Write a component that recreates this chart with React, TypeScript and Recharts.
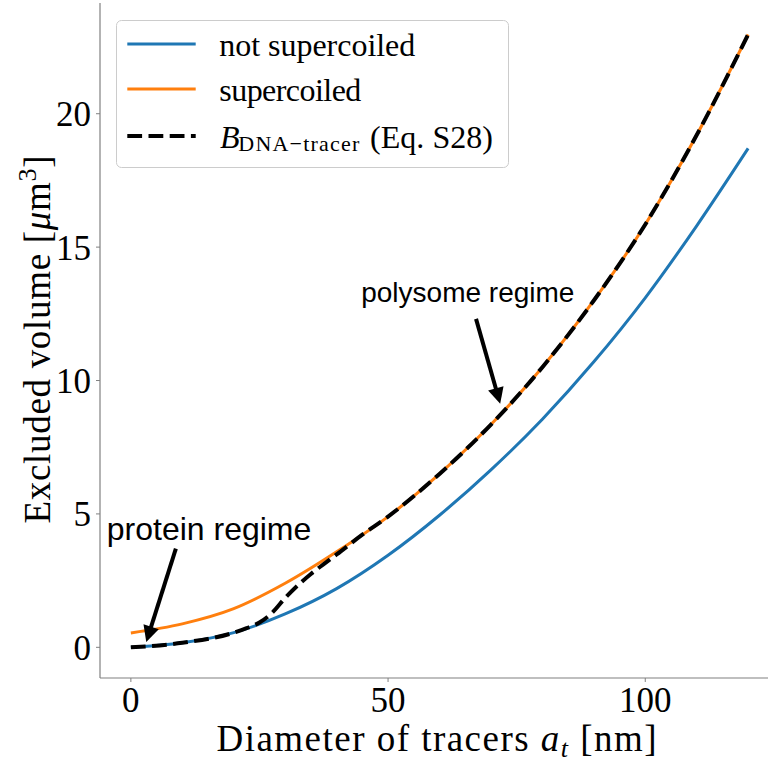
import React from 'react';
import { LineChart, Line, XAxis, YAxis, Legend, ReferenceLine, ReferenceDot, Label } from 'recharts';

// ---- data ----
const diameterNm = [0, 10, 20, 30, 40, 50, 60, 70, 80, 90, 100, 110, 120];
const notSupercoiled = [0, 0.17, 0.55, 1.25, 2.2, 3.45, 4.95, 6.65, 8.55, 10.7, 13.1, 15.8, 18.7];
const supercoiled = [0.54, 0.88, 1.45, 2.4, 3.58, 4.9, 6.5, 8.35, 10.5, 13.0, 15.85, 19.2, 22.97];

const tracerDiameterNm = [0, 10, 20, 22.5, 25, 27.5, 30, 32.5, 35, 37.5, 40, 45, 50, 60, 70, 80, 90, 100, 110, 120];
const bDnaTracer = [0, 0.17, 0.55, 0.72, 0.93, 1.3, 1.85, 2.33, 2.75, 3.12, 3.48, 4.22, 4.9, 6.5, 8.35, 10.5, 13.0, 15.85, 19.2, 22.97];

const xTicks = [0, 50, 100];
const yTicks = [0, 5, 10, 15, 20];
const xDomain = [-6, 126];
const yDomain = [-1.15, 24.15];

// annotations: [textX, textY, arrowTailX, arrowTailY, arrowTipX, arrowTipY]
const proteinAnnotation = [15.2, 4.03, 8.75, 3.7, 3.0, 0.2];
const polysomeAnnotation = [65.5, 12.94, 67.1, 12.31, 71.8, 9.13];

const BLUE = '#1f77b4';
const ORANGE = '#ff7f0e';
const SPINE = '#808080';
const SERIF = '"Liberation Serif", "Times New Roman", serif';
const SANS = '"Liberation Sans", Arial, Helvetica, sans-serif';

const notSupercoiledData = diameterNm.map((x, i) => ({ x, v: notSupercoiled[i] }));
const supercoiledData = diameterNm.map((x, i) => ({ x, v: supercoiled[i] }));
const bDnaTracerData = tracerDiameterNm.map((x, i) => ({ x, v: bDnaTracer[i] }));

const Arrow = (props: any) => {
  const { x1, y1, x2, y2 } = props;
  const dx = x2 - x1;
  const dy = y2 - y1;
  const len = Math.hypot(dx, dy) || 1;
  const ux = dx / len;
  const uy = dy / len;
  const headLen = 16;
  const headW = 8;
  const bx = x2 - ux * headLen;
  const by = y2 - uy * headLen;
  const px = -uy;
  const py = ux;
  return (
    <g>
      <line x1={x1} y1={y1} x2={bx + ux * 2} y2={by + uy * 2} stroke="#000" strokeWidth={4} />
      <polygon
        points={`${x2},${y2} ${bx + px * headW},${by + py * headW} ${bx - px * headW},${by - py * headW}`}
        fill="#000"
      />
    </g>
  );
};

const annotationText = (text: string, size: number) => (props: any) => (
  <text x={props.cx} y={props.cy} textAnchor="middle" fontFamily={SANS} fontSize={size} fill="#000">
    {text}
  </text>
);

const LegendBox = () => (
  <svg width={394} height={149} style={{ display: 'block' }}>
    <rect x={0.5} y={0.5} width={392} height={147} rx={5} ry={5} fill="#fff" fillOpacity={0.8} stroke="#cccccc" strokeWidth={1} />
    <line x1={11.3} y1={24} x2={79.7} y2={24} stroke={BLUE} strokeWidth={3} />
    <text x={103.3} y={35.7} fontFamily={SERIF} fontSize={32} fill="#000" textLength={196} lengthAdjust="spacing">
      not supercoiled
    </text>
    <line x1={11.3} y1={69} x2={79.7} y2={69} stroke={ORANGE} strokeWidth={3} />
    <text x={103.3} y={81} fontFamily={SERIF} fontSize={32} fill="#000" textLength={142} lengthAdjust="spacing">
      supercoiled
    </text>
    <line x1={11.3} y1={116} x2={79.7} y2={116} stroke="#000" strokeWidth={4} strokeDasharray="14.8 6.4" />
    <text x={104} y={127.7} fontFamily={SERIF} fontSize={32} fill="#000" fontStyle="italic">
      B
    </text>
    <text x={122.3} y={131} fontFamily={SERIF} fontSize={22} fill="#000" textLength={121} lengthAdjust="spacing">
      DNA−tracer
    </text>
    <text x={254} y={127.7} fontFamily={SERIF} fontSize={32} fill="#000" textLength={123} lengthAdjust="spacing">
      (Eq. S28)
    </text>
  </svg>
);

const XLabel = (props: any) => {
  const vb = props.viewBox || { x: 100, width: 679 };
  const cx = vb.x + vb.width / 2 - 3;
  return (
    <text x={cx} y={751} textAnchor="middle" fontFamily={SERIF} fontSize={37} fill="#000" textLength={440} lengthAdjust="spacing">
      Diameter of tracers <tspan fontStyle="italic">a</tspan>
      <tspan fontSize={26} fontStyle="italic" dy={6}>t</tspan>
      <tspan dy={-6}> [nm]</tspan>
    </text>
  );
};

const YLabel = (props: any) => {
  const vb = props.viewBox || { y: 3, height: 675 };
  const cy = vb.y + vb.height / 2 - 1;
  return (
    <text
      transform={`translate(50, ${cy}) rotate(-90)`}
      x={0}
      y={0}
      textAnchor="middle"
      fontFamily={SERIF}
      fontSize={37}
      fill="#000"
      textLength={368}
      lengthAdjust="spacing"
    >
      Excluded volume [<tspan fontStyle="italic">μ</tspan>m<tspan fontSize={26} dy={-14}>3</tspan>
      <tspan dy={14}>]</tspan>
    </text>
  );
};

export default function App() {
  return (
    <div
      style={{
        position: 'absolute',
        left: 0,
        top: 0,
        width: 768,
        height: 764,
        overflow: 'hidden',
        background: '#fff',
      }}
    >
      <LineChart width={780} height={764} margin={{ top: 3, right: 1, bottom: 0, left: 0 }}>
        <XAxis
          dataKey="x"
          type="number"
          domain={xDomain}
          ticks={xTicks}
          allowDataOverflow
          height={86}
          tickSize={4}
          tickMargin={5}
          axisLine={{ stroke: SPINE, strokeWidth: 1.2 }}
          tickLine={{ stroke: SPINE }}
          tick={{ fill: '#000', fontSize: 35, fontFamily: SERIF }}
        >
          <Label content={XLabel} />
        </XAxis>
        <XAxis
          xAxisId="top"
          orientation="top"
          dataKey="x"
          type="number"
          domain={xDomain}
          allowDataOverflow
          height={0}
          tick={false}
          tickLine={false}
          axisLine={{ stroke: SPINE, strokeWidth: 1.2 }}
        />
        <YAxis
          type="number"
          domain={yDomain}
          ticks={yTicks}
          allowDataOverflow
          width={100}
          tickSize={4}
          tickMargin={5}
          axisLine={{ stroke: SPINE, strokeWidth: 1.2 }}
          tickLine={{ stroke: SPINE }}
          tick={{ fill: '#000', fontSize: 35, fontFamily: SERIF }}
        >
          <Label content={YLabel} />
        </YAxis>
        <Line
          data={notSupercoiledData}
          dataKey="v"
          name="not supercoiled"
          type="monotone"
          stroke={BLUE}
          strokeWidth={3}
          dot={false}
          activeDot={false}
          isAnimationActive={false}
        />
        <Line
          data={supercoiledData}
          dataKey="v"
          name="supercoiled"
          type="monotone"
          stroke={ORANGE}
          strokeWidth={3}
          dot={false}
          activeDot={false}
          isAnimationActive={false}
        />
        <Line
          data={bDnaTracerData}
          dataKey="v"
          name="B_DNA-tracer (Eq. S28)"
          type="monotone"
          stroke="#000"
          strokeWidth={4}
          strokeDasharray="14.8 6.4"
          dot={false}
          activeDot={false}
          isAnimationActive={false}
        />
        <ReferenceLine
          segment={[
            { x: proteinAnnotation[2], y: proteinAnnotation[3] },
            { x: proteinAnnotation[4], y: proteinAnnotation[5] },
          ]}
          shape={Arrow}
        />
        <ReferenceLine
          segment={[
            { x: polysomeAnnotation[2], y: polysomeAnnotation[3] },
            { x: polysomeAnnotation[4], y: polysomeAnnotation[5] },
          ]}
          shape={Arrow}
        />
        <ReferenceDot x={proteinAnnotation[0]} y={proteinAnnotation[1]} r={0} shape={annotationText('protein regime', 32)} />
        <ReferenceDot x={polysomeAnnotation[0]} y={polysomeAnnotation[1]} r={0} shape={annotationText('polysome regime', 28)} />
        <Legend
          layout="vertical"
          align="center"
          verticalAlign="middle"
          wrapperStyle={{ position: 'absolute', left: 116, top: 20, width: 394, height: 149 }}
          content={() => <LegendBox />}
        />
      </LineChart>
    </div>
  );
}
